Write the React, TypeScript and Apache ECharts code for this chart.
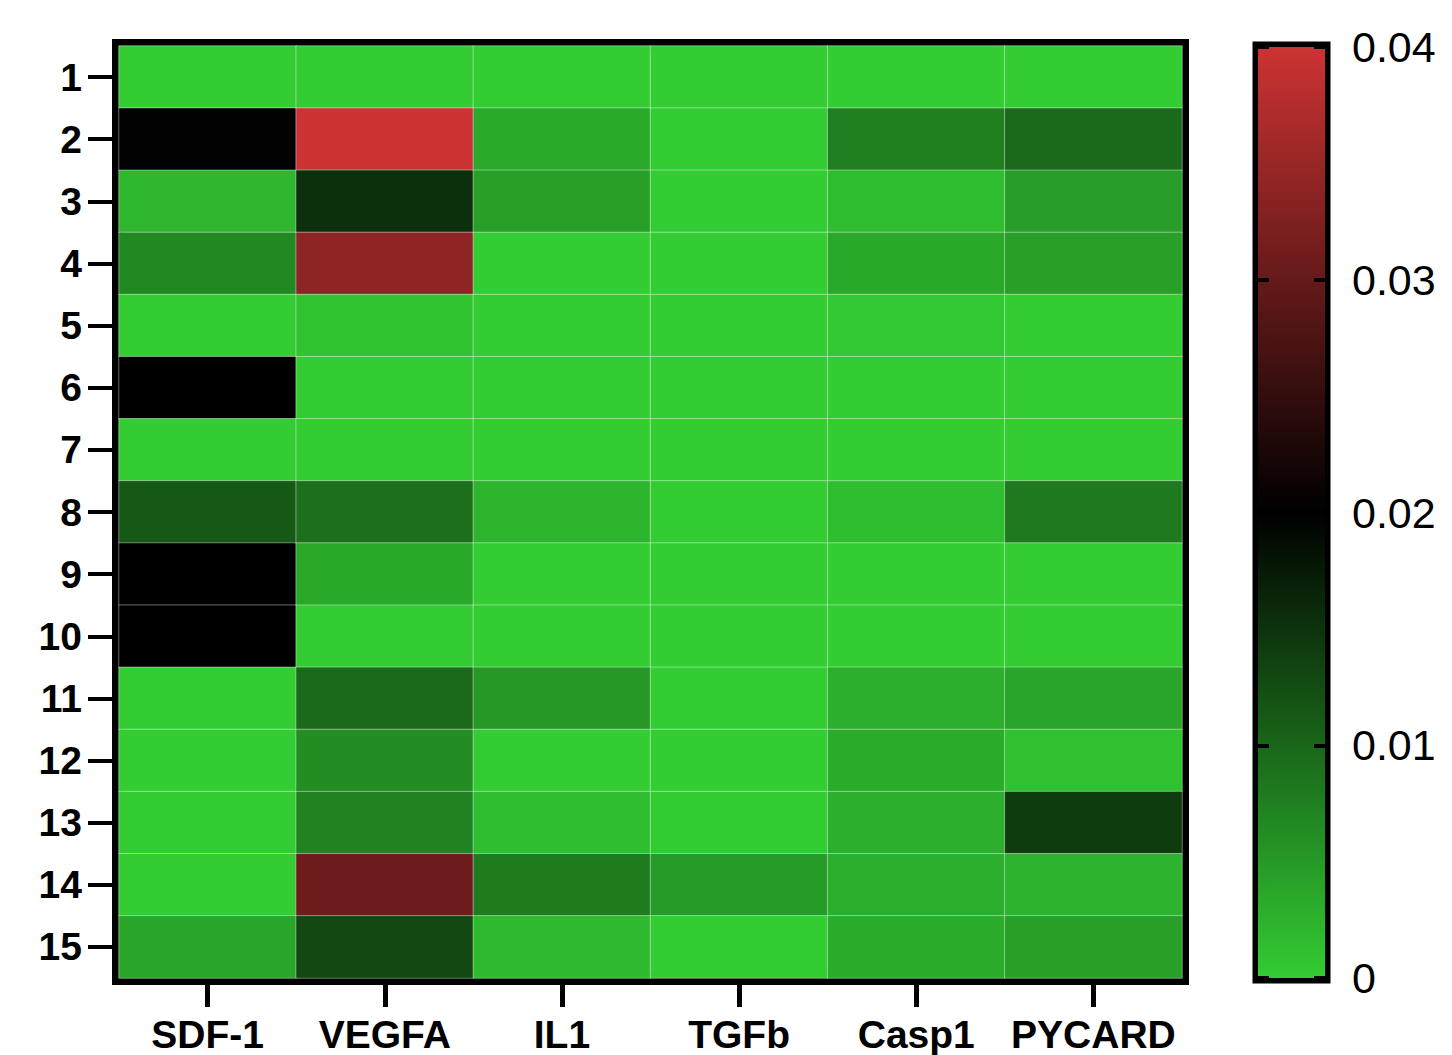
import React, { useEffect, useRef } from "react";
import * as echarts from "echarts";

const genes = ["SDF-1", "VEGFA", "IL1", "TGFb", "Casp1", "PYCARD"];
const samples = ["1", "2", "3", "4", "5", "6", "7", "8", "9", "10", "11", "12", "13", "14", "15"];

const sdf1 = [0, 0.0202, 0.0021, 0.0067, 0, 0.02, 0, 0.0114, 0.02, 0.02, 0, 0, 0, 0, 0.0038];
const vegfa = [0, 0.04, 0.0153, 0.034, 0.0008, 0, 0, 0.009, 0.0035, 0, 0.0096, 0.0063, 0.0073, 0.0308, 0.0129];
const il1 = [0, 0.0034, 0.0043, 0, 0, 0, 0, 0.0022, 0, 0, 0.0051, 0, 0.0014, 0.0078, 0.0018];
const tgfb = [0, 0, 0, 0, 0, 0, 0, 0, 0, 0, 0, 0, 0, 0.0048, 0];
const casp1 = [0, 0.0075, 0.0014, 0.0035, 0.0003, 0, 0, 0.0014, 0, 0, 0.0028, 0.0031, 0.0028, 0.0028, 0.0031];
const pycard = [0, 0.0096, 0.0045, 0.0043, 0, 0, 0, 0.008, 0, 0, 0.0038, 0.0011, 0.0141, 0.0025, 0.0043];

const scaleMin = 0;
const scaleMax = 0.04;
const scaleStep = 0.01;

const GREEN = "#33cc33";
const BLACK = "#000000";
const RED = "#cc3333";

export default function App() {
  const ref = useRef<HTMLDivElement>(null);

  useEffect(() => {
    document.body.style.margin = "0";
    if (!ref.current) return;
    const chart = echarts.init(ref.current, null, { renderer: "svg" });
    const columns = [sdf1, vegfa, il1, tgfb, casp1, pycard];
    const data: number[][] = [];
    columns.forEach((col, ci) => {
      col.forEach((v, ri) => data.push([ci, ri, v]));
    });

    const font = "Liberation Sans, Arial, sans-serif";

    chart.setOption({
      animation: false,
      backgroundColor: "#ffffff",
      grid: [
        {
          left: 119,
          top: 46,
          width: 1063,
          height: 932,
          show: true,
          borderColor: "#000",
          borderWidth: 14,
          backgroundColor: "transparent",
        },
        {
          left: 1258,
          top: 47,
          width: 67,
          height: 931,
          show: true,
          borderColor: "#000",
          borderWidth: 11,
          backgroundColor: "transparent",
        },
      ],
      xAxis: [
        {
          type: "category",
          gridIndex: 0,
          data: genes,
          position: "bottom",
          axisLine: { show: false },
          axisTick: { show: true, alignWithLabel: true, length: 29, lineStyle: { color: "#000", width: 5 } },
          axisLabel: {
            interval: 0,
            margin: 37,
            color: "#000",
            fontSize: 39,
            fontWeight: "bold",
            fontFamily: font,
          },
          splitLine: { show: false },
        },
        {
          type: "category",
          gridIndex: 1,
          data: ["scale"],
          show: false,
        },
      ],
      yAxis: [
        {
          type: "category",
          gridIndex: 0,
          data: samples,
          inverse: true,
          axisLine: { show: false },
          axisTick: { show: true, alignWithLabel: true, length: 31, lineStyle: { color: "#000", width: 4 } },
          axisLabel: {
            interval: 0,
            margin: 37,
            color: "#000",
            fontSize: 39,
            fontWeight: "bold",
            fontFamily: font,
          },
          splitLine: { show: false },
        },
        {
          type: "value",
          gridIndex: 1,
          min: scaleMin,
          max: scaleMax,
          interval: scaleStep,
          position: "right",
          z: 10,
          axisLine: { show: false },
          axisTick: { show: true, inside: true, length: 11, lineStyle: { color: "#000", width: 4 } },
          axisLabel: {
            margin: 27,
            color: "#000",
            fontSize: 43,
            fontFamily: font,
            formatter: (v: number) => (v === 0 ? "0" : v.toFixed(2)),
          },
          splitLine: { show: false },
        },
        {
          type: "value",
          gridIndex: 1,
          min: scaleMin,
          max: scaleMax,
          interval: scaleStep,
          position: "left",
          z: 10,
          axisLine: { show: false },
          axisTick: { show: true, inside: true, length: 11, lineStyle: { color: "#000", width: 4 } },
          axisLabel: { show: false },
          splitLine: { show: false },
        },
      ],
      visualMap: {
        type: "continuous",
        show: false,
        min: scaleMin,
        max: scaleMax,
        dimension: 2,
        seriesIndex: 0,
        inRange: { color: [GREEN, BLACK, RED] },
      },
      series: [
        {
          type: "heatmap",
          xAxisIndex: 0,
          yAxisIndex: 0,
          data,
          itemStyle: { borderColor: "rgba(255,255,255,0.4)", borderWidth: 1 },
          emphasis: { disabled: true },
        },
        {
          type: "bar",
          xAxisIndex: 1,
          yAxisIndex: 1,
          data: [scaleMax],
          barWidth: "100%",
          barCategoryGap: 0,
          silent: true,
          itemStyle: {
            color: new echarts.graphic.LinearGradient(0, 0, 0, 1, [
              { offset: 0, color: RED },
              { offset: 0.5, color: BLACK },
              { offset: 1, color: GREEN },
            ]),
          },
        },
      ],
    });

    return () => chart.dispose();
  }, []);

  return <div ref={ref} style={{ width: 1452, height: 1055 }} />;
}
